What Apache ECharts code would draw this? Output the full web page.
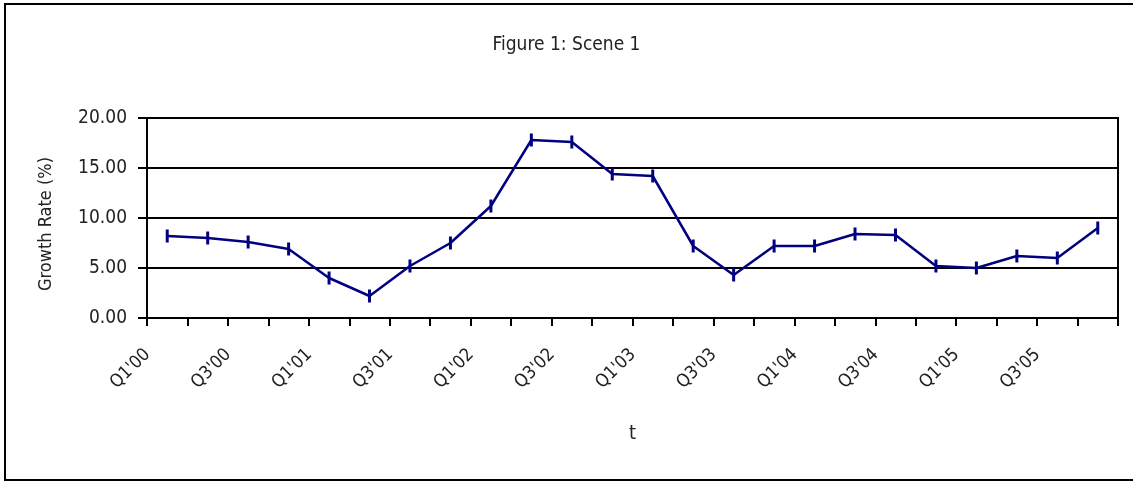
<!DOCTYPE html>
<html>
<head>
<meta charset="utf-8">
<title>Figure 1: Scene 1</title>
<script src="https://cdn.jsdelivr.net/npm/echarts@6/dist/echarts.min.js"></script>
<style>
  html, body { margin: 0; padding: 0; background: #fff; }
  #chart { width: 1133px; height: 482px; }
</style>
</head>
<body>
<div id="chart"></div>
<script>
// Quarterly periods, Q1'00 .. Q4'05
const quarters = [
  "Q1'00", "Q2'00", "Q3'00", "Q4'00",
  "Q1'01", "Q2'01", "Q3'01", "Q4'01",
  "Q1'02", "Q2'02", "Q3'02", "Q4'02",
  "Q1'03", "Q2'03", "Q3'03", "Q4'03",
  "Q1'04", "Q2'04", "Q3'04", "Q4'04",
  "Q1'05", "Q2'05", "Q3'05", "Q4'05"
];

// Growth rate (%) per quarter
const growthRate = [
  8.2, 8.0, 7.6, 6.9,
  4.0, 2.2, 5.2, 7.5,
  11.2, 17.8, 17.6, 14.4,
  14.2, 7.2, 4.3, 7.2,
  7.2, 8.4, 8.3, 5.2,
  5.0, 6.2, 6.0, 9.0
];

// Value axis range and step
const yMin = 0;
const yMax = 20;
const yStep = 5;

const FONT = "'Liberation Sans Narrow', 'DejaVu Sans Condensed', 'Liberation Sans', Arial, sans-serif";
const NAVY = '#000080';
const TEXT = '#222';

const chart = echarts.init(document.getElementById('chart'), null, { renderer: 'canvas' });

chart.setOption({
  backgroundColor: '#ffffff',
  animation: false,
  textStyle: { fontFamily: FONT },
  title: {
    text: 'Figure 1: Scene 1',
    left: 'center',
    top: 31,
    textStyle: { fontFamily: FONT, fontSize: 19, fontWeight: 'normal', color: TEXT }
  },
  graphic: [{
    type: 'rect',
    shape: { x: 5, y: 4, width: 1140, height: 476 },
    style: { fill: 'none', stroke: '#000', lineWidth: 2 },
    silent: true,
    z: 100
  }],
  grid: {
    left: 147,
    right: 15,
    top: 118,
    bottom: 164,
    show: true,
    borderColor: '#000',
    borderWidth: 2,
    backgroundColor: 'transparent'
  },
  xAxis: {
    type: 'category',
    data: quarters,
    boundaryGap: true,
    name: 't',
    nameLocation: 'middle',
    nameGap: 106,
    nameTextStyle: { fontFamily: FONT, fontSize: 20, color: TEXT },
    axisLine: { show: true, lineStyle: { color: '#000', width: 2 } },
    axisTick: { show: true, alignWithLabel: false, interval: 0, length: 8, lineStyle: { color: '#000', width: 2 } },
    axisLabel: {
      interval: 1,
      rotate: 45,
      margin: 14,
      padding: [0, 28, 0, 0],
      fontFamily: FONT,
      fontSize: 18,
      color: TEXT
    },
    splitLine: { show: false }
  },
  yAxis: {
    type: 'value',
    min: yMin,
    max: yMax,
    interval: yStep,
    name: 'Growth Rate (%)',
    nameLocation: 'middle',
    nameGap: 92,
    nameRotate: 90,
    nameTextStyle: { fontFamily: FONT, fontSize: 18, color: TEXT, padding: [0, 12, 0, 0] },
    axisLine: { show: true, lineStyle: { color: '#000', width: 2 } },
    axisTick: { show: true, length: 9, lineStyle: { color: '#000', width: 2 } },
    axisLabel: {
      margin: 20,
      fontFamily: FONT,
      fontSize: 19,
      color: TEXT,
      formatter: v => v.toFixed(2)
    },
    splitLine: { show: true, lineStyle: { color: '#000', width: 2 } }
  },
  series: [{
    type: 'line',
    data: growthRate,
    symbol: 'rect',
    symbolSize: [3, 13],
    showSymbol: true,
    lineStyle: { color: NAVY, width: 2.5 },
    itemStyle: { color: NAVY },
    z: 5
  }]
});
</script>
</body>
</html>
